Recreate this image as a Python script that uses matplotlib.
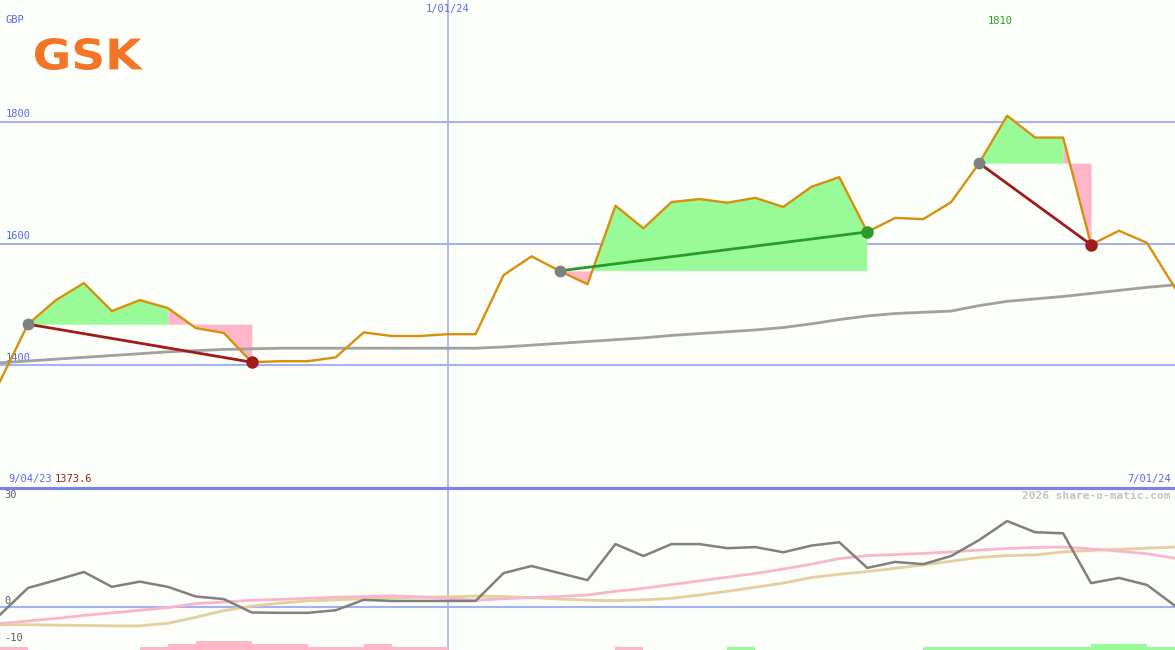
import numpy as np
import matplotlib.pyplot as plt
from matplotlib.lines import Line2D
from matplotlib.textpath import TextPath
from matplotlib.patches import PathPatch
from matplotlib.font_manager import FontProperties
from matplotlib.transforms import Affine2D

# weekly closes, GBP
price = [1373.6, 1467.5, 1507, 1535, 1489, 1507, 1494, 1461, 1453, 1405,
         1406.6, 1406.6, 1413, 1454, 1448, 1448, 1451, 1451, 1548, 1579,
         1555, 1533, 1662, 1625, 1668, 1673, 1667, 1675, 1660, 1693,
         1709, 1619, 1642, 1640, 1668, 1732, 1810, 1774, 1774, 1598,
         1621, 1601, 1527]
# long moving average
ma_long = [1404, 1407, 1410, 1413, 1416, 1419, 1422, 1424, 1426, 1427,
           1428, 1428, 1428, 1428, 1428, 1428, 1428, 1428, 1430, 1433,
           1436, 1439, 1442, 1445, 1449, 1452, 1455, 1458, 1462, 1468,
           1475, 1481, 1485, 1487, 1489, 1498, 1505, 1509, 1513, 1518,
           1523, 1528, 1532]
# lower panel indicators
osc = [-2.1, 5.1, 7.2, 9.4, 5.4, 6.8, 5.4, 2.8, 2.1, -1.5,
       -1.6, -1.6, -0.9, 1.9, 1.6, 1.6, 1.6, 1.6, 9.1, 11.0,
       9.1, 7.2, 16.9, 13.7, 16.9, 16.9, 15.8, 16.1, 14.7, 16.5,
       17.4, 10.5, 12.1, 11.5, 13.7, 18.0, 23.1, 20.1, 19.8, 6.4,
       7.8, 5.9, 0.3]
sig_pink = [-4.5, -3.8, -3.1, -2.3, -1.6, -0.9, -0.2, 0.9, 1.3, 1.8,
            2.0, 2.3, 2.6, 2.8, 3.0, 2.7, 2.3, 1.8, 2.2, 2.5,
            2.8, 3.2, 4.2, 5.0, 6.0, 7.0, 8.0, 9.0, 10.2, 11.5,
            13.0, 13.8, 14.1, 14.4, 14.8, 15.3, 15.7, 16.0, 16.1, 15.6,
            15.0, 14.3, 13.1]
sig_tan = [-4.8, -4.8, -4.9, -5.0, -5.1, -5.1, -4.4, -2.8, -1.0, 0.2,
           1.0, 1.6, 1.9, 2.2, 2.4, 2.6, 2.7, 2.9, 2.8, 2.5,
           2.1, 1.8, 1.7, 1.9, 2.3, 3.2, 4.2, 5.3, 6.4, 7.9,
           8.8, 9.5, 10.4, 11.3, 12.3, 13.3, 13.8, 14.0, 14.8, 15.2,
           15.5, 15.8, 16.1]
# weekly signal bars (negative = pink, positive = green)
bars = [-1, 0, 0, 0, 0, -1, -2, -3, -3, -2,
        -2, -1, -1, -2, -1, -1, 0, 0, 0, 0,
        0, 0, -1, 0, 0, 0, 1, 0, 0, 0,
        0, 0, 0, 1, 1, 1, 1, 1, 1, 2,
        2, 1]
# trades: entry week, turn week, exit week, won?
trades = [(1, 6, 9, False), (20, 31, 31, True), (35, 38, 39, False)]
price_grid = [1400, 1600, 1800]
osc_ticks = [30, 0, -10]
year_week = 16
labels = {"start": "9/04/23", "mid": "1/01/24", "end": "7/01/24"}

bg = '#fcfef9'
grid_c = '#a4b2f2'
blue_txt = '#5a68f0'
mono = 'DejaVu Sans Mono'
W, H = 1175, 650

x = np.arange(len(price))
p = np.array(price)

fig = plt.figure(figsize=(11.75, 6.5), dpi=100, facecolor=bg)
ax = fig.add_axes([0, 163 / H, 1, 487 / H])
ax2 = fig.add_axes([0, 0, 1, 162 / H])
for a in (ax, ax2):
    a.set_facecolor(bg)
    a.set_xlim(0, 42)
    a.axis('off')

ax.set_ylim(1200, 2000)
for g in price_grid:
    ax.axhline(g, color=grid_c, lw=1.5, zorder=1)
    ax.text(0.005, g + 4, str(g), transform=ax.get_yaxis_transform(),
            color=blue_txt, fontsize=7.5, family=mono, va='bottom')
ax.axvline(year_week, color=grid_c, lw=1.2, zorder=1)
ax2.axvline(year_week, color=grid_c, lw=1.2, zorder=1)

# trade fills
for ent, turn, ext, won in trades:
    lvl = p[ent]
    xs = x[ent:turn + 1]
    ps = p[ent:turn + 1]
    ax.fill_between(xs, ps, lvl, where=ps >= lvl, interpolate=True,
                    color='#98fb98', lw=0, zorder=2)
    ax.fill_between(xs, ps, lvl, where=ps < lvl, interpolate=True,
                    color='#ffb6c8', lw=0, zorder=2)
    if ext > turn:
        ax.fill_between(x[turn:ext + 1], p[turn:ext + 1], lvl,
                        color='#ffb6c8', lw=0, zorder=2)

ax.plot(x, ma_long, color='#a0a0a0', lw=2, zorder=3)
ax.plot(x, price, color='#d8900c', lw=1.7, zorder=4)

for ent, turn, ext, won in trades:
    c = '#2a9a2a' if won else '#a01c1c'
    ax.plot([ent, ext], [price[ent], price[ext]], color=c, lw=2, zorder=5)
    ax.plot(ent, price[ent], 'o', ms=8.5, color='#808080', mec='none', zorder=6)
    ax.plot(ext, price[ext], 'o', ms=9, color=c, mec='none', zorder=6)

ax.text(5 / W, 1 - 25 / 487, "GBP", transform=ax.transAxes, color=blue_txt,
        fontsize=7.5, family=mono, va='bottom')

# logo, fitted to its box in pixels (x 35..143, y 38..70 from top)
tp = TextPath((0, 0), "GSK", size=40,
              prop=FontProperties(family='DejaVu Sans', weight='bold'))
ext_ = tp.get_extents()
sx = (143 - 35) / ext_.width
sy = (70 - 38) / ext_.height
logo_tr = (Affine2D().translate(-ext_.x0, -ext_.y0).scale(sx, sy)
           .translate(35, H - 70).scale(1 / W, 1 / H) + fig.transFigure)
fig.add_artist(PathPatch(tp, transform=logo_tr, color='#f47528', lw=0))

ax.text(year_week, 1 - 4 / 487, labels["mid"], transform=ax.get_xaxis_transform(),
        color=blue_txt, fontsize=7.5, family=mono, ha='center', va='top')
imax = int(np.argmax(p))
ax.text(imax - 0.25, 1 - 16 / 487, f"{p.max():.0f}", transform=ax.get_xaxis_transform(),
        color='#22a022', fontsize=7.5, family=mono, ha='center', va='top')
ax.text(8 / W, 3 / 487, labels["start"], transform=ax.transAxes, color=blue_txt,
        fontsize=7.5, family=mono, va='bottom')
ax.text(55 / W, 3 / 487, f"{price[0]}", transform=ax.transAxes, color='#a01c1c',
        fontsize=7.5, family=mono, va='bottom')
ax.text(1 - 4 / W, 3 / 487, labels["end"], transform=ax.transAxes, color=blue_txt,
        fontsize=7.5, family=mono, ha='right', va='bottom')

# panel separator
fig.add_artist(Line2D([0, 1], [162.5 / H, 162.5 / H], color='#7585ee', lw=2.2))

# lower panel
ax2.set_ylim(-11.6, 32)
ax2.axhline(0, color=grid_c, lw=1.5, zorder=1)
base = -11.6
for i, b in enumerate(bars):
    if b == 0:
        continue
    ax2.bar(i, abs(b) * 0.8, bottom=base, width=1, align='edge',
            color='#98fb98' if b > 0 else '#ffb6c8', lw=0, zorder=2)
ax2.plot(x, sig_tan, color='#e4cfa0', lw=2, zorder=3)
ax2.plot(x, sig_pink, color='#f9b6c9', lw=2, zorder=3)
ax2.plot(x, osc, color='#808080', lw=1.8, zorder=4)
# labels sit just above their level; the top one is tucked under the frame
for v in osc_ticks:
    yv = min(v, 28.4)
    ax2.text(0.004, yv + 0.3, str(v), transform=ax2.get_yaxis_transform(),
             color='#606060', fontsize=7.5, family=mono, va='bottom')
ax2.text(1 - 4 / W, 1 - 3 / 162, "2026 share-o-matic.com", transform=ax2.transAxes,
         color='#c4c4c4', fontsize=8, family=mono, fontweight='bold', ha='right', va='top')

fig.savefig("out.png", dpi=100, facecolor=bg)
